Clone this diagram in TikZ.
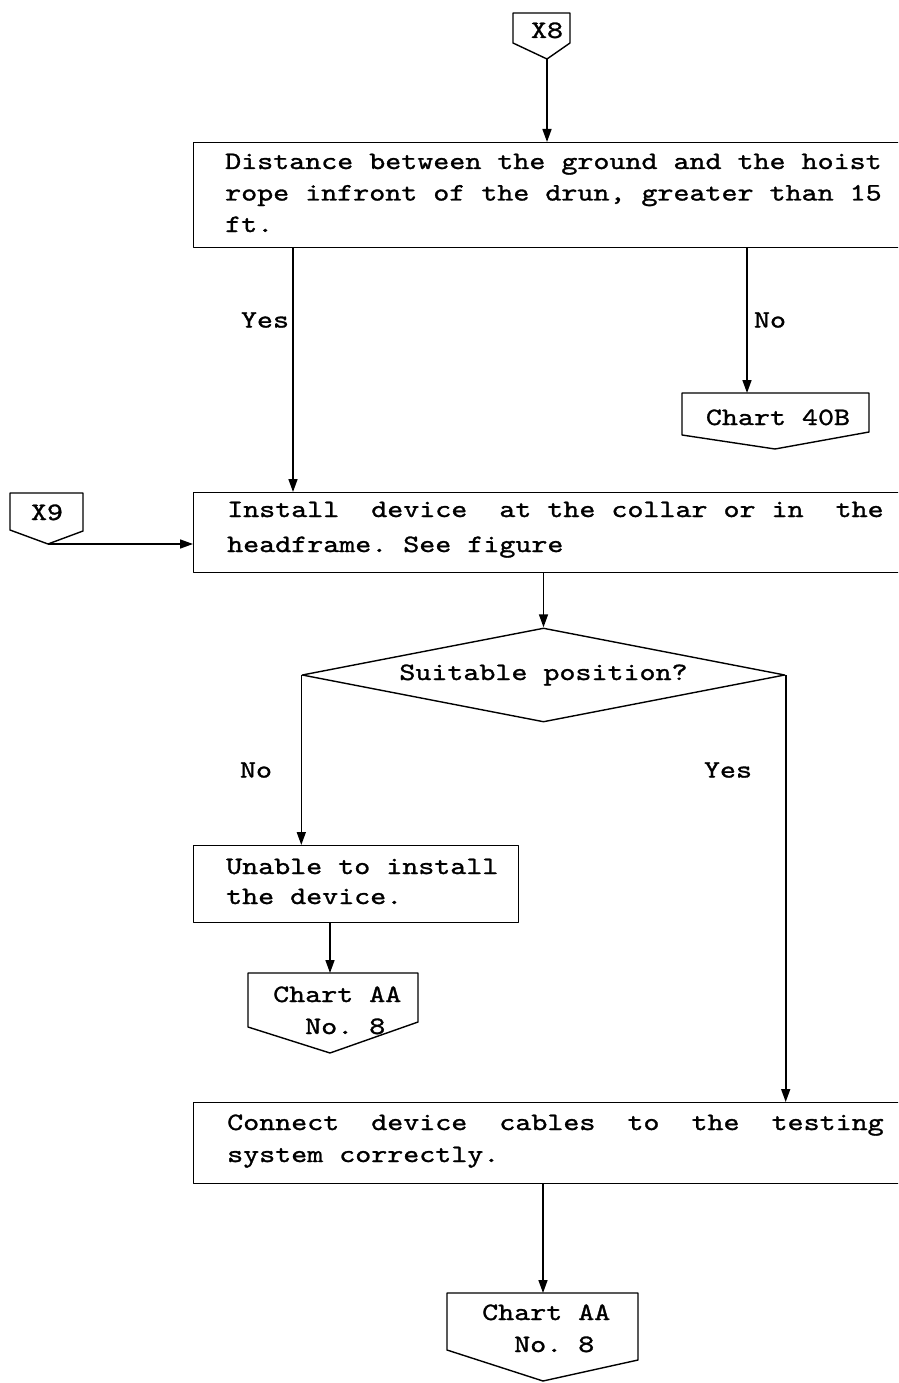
\documentclass[tikz,border=0pt]{standalone}
\usepackage{fontspec}
\usetikzlibrary{arrows.meta,shapes.geometric}
% typewriter face, widened to a 16pt pitch
\newfontfamily\tw{lmmono10-regular.otf}[FakeStretch=1.22,FakeBold=1.2]
% multi-line text block: first argument is the line spacing
\newcommand\linesblock[2]{\parbox[t]{700pt}{\frenchspacing\fontsize{25}{#1}\selectfont #2}}
\newcommand\indenttwo{\hspace*{32pt}}
\tikzset{
  shapeline/.style={draw, line width=1.4pt, line join=round},
  box/.style={shapeline, rectangle, inner sep=0pt, anchor=north west},
  arr/.style={line width=1.6pt, -{Triangle[length=13pt,width=9pt]}},
  lbl/.style={font=\tw\fontsize{25}{32}\selectfont, inner sep=0pt},
  txt/.style={lbl, anchor=base west}
}
\begin{document}
\begin{tikzpicture}[x=1pt,y=-1pt]
\useasboundingbox (0,0) rectangle (898,1383);
\clip (0,0) rectangle (898,1383);

% entry connector X8
\draw[shapeline] (513,13) -- (570,13) -- (570,43) -- (547,59) -- (513,43) -- cycle;
\coordinate (x8) at (547,59);
\node[lbl, anchor=base] (x8t) at (547,38) {X8};

% first process box
\node[box, minimum width=720pt, minimum height=105pt] (b1) at (193,142) {};
\node[txt] (b1t) at (225,169) {\linesblock{31.5pt}{Distance between the ground and the hoist\\rope infront of the drun, greater than 15\\ft.}};
\draw[arr] (x8) -- (x8 |- b1.north);

% "No" exit to Chart 40B
\draw[shapeline] (682,393) -- (869,393) -- (869,432) -- (775,449) -- (682,435) -- cycle;
\coordinate (c40) at (747,393);
\node[lbl, anchor=base] (c40t) at (778,425) {Chart 40B};
\draw[arr] ([xshift=554pt]b1.south west) -- (c40);
\node[lbl] (yes1) at (265,320) {Yes};
\node[lbl] (no1) at (770,320) {No};

% second process box
\node[box, minimum width=720pt, minimum height=80pt] (b2) at (193,492) {};
\node[txt] (b2t) at (227,517) {\linesblock{35pt}{Install~~device~~at the collar or in~~the\\headframe. See figure}};
\draw[arr] ([xshift=100pt]b1.south west) -- ([xshift=100pt]b2.north west);

% entry connector X9
\draw[shapeline] (10,493) -- (83,493) -- (83,531) -- (48,544) -- (10,530) -- cycle;
\coordinate (x9) at (48,544);
\node[lbl, anchor=base] (x9t) at (47,520) {X9};
\draw[arr] (x9) -- (x9 -| b2.west);

% decision
\node[shapeline, diamond, aspect=5.14, minimum width=483pt, minimum height=94pt, lbl] (d) at (543.5,675) {Suitable position?};
\draw[arr] (d.north |- b2.south) -- (d.north);
\node[lbl] (no2) at (256,770) {No};
\node[lbl] (yes2) at (728,770) {Yes};

% "No" branch
\node[box, minimum width=325pt, minimum height=77pt] (u) at (193,845) {};
\node[txt] (ut) at (226,874) {\linesblock{30pt}{Unable to install\\the device.}};
\draw[arr] (d.west) -- (d.west |- u.north);

\draw[shapeline] (248,973) -- (418,973) -- (418,1022) -- (330,1053) -- (248,1027) -- cycle;
\coordinate (aa1) at (330,973);
\node[txt] (aa1t) at (273,1002) {\linesblock{32pt}{Chart AA\\\indenttwo No. 8}};
\draw[arr] (aa1 |- u.south) -- (aa1);

% "Yes" branch
\node[box, minimum width=720pt, minimum height=81pt] (b3) at (193,1102) {};
\node[txt] (b3t) at (227,1130) {\linesblock{32pt}{Connect~~device~~cables~~to~~the~~testing\\system correctly.}};
\draw[arr] (d.east) -- (d.east |- b3.north);

\draw[shapeline] (447,1293) -- (638,1293) -- (638,1360) -- (543,1381) -- (447,1350) -- cycle;
\coordinate (aa2) at (543,1293);
\node[txt] (aa2t) at (482,1320) {\linesblock{32pt}{Chart AA\\\indenttwo No. 8}};
\draw[arr] (aa2 |- b3.south) -- (aa2);
\end{tikzpicture}
\end{document}
